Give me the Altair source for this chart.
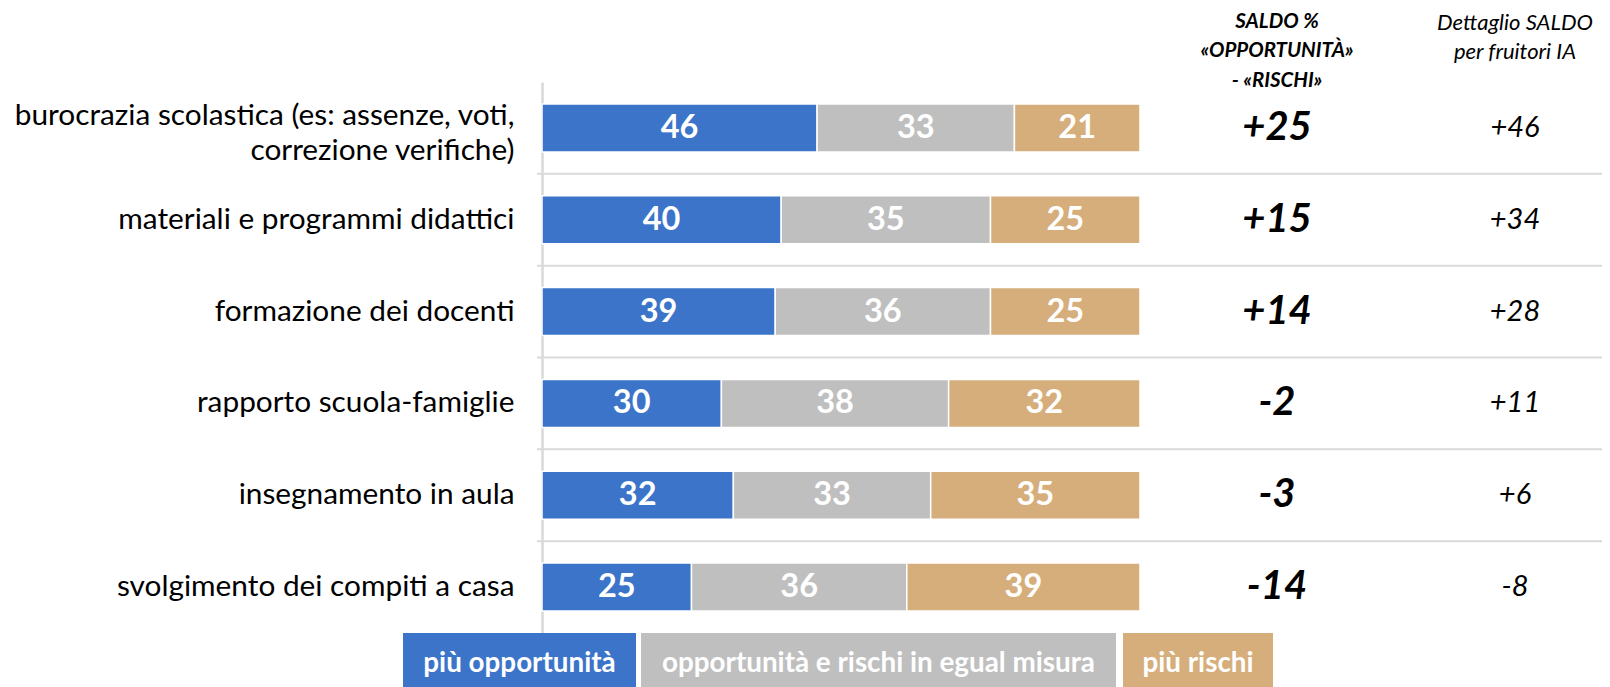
import altair as alt
import pandas as pd

# ---------------- data ----------------
categories = [
    "burocrazia scolastica (es: assenze, voti,|correzione verifiche)",
    "materiali e programmi didattici",
    "formazione dei docenti",
    "rapporto scuola-famiglie",
    "insegnamento in aula",
    "svolgimento dei compiti a casa",
]
series = ["più opportunità", "opportunità e rischi in egual misura", "più rischi"]
piu_opportunita = [46, 40, 39, 30, 32, 25]
egual_misura = [33, 35, 36, 38, 33, 36]
piu_rischi = [21, 25, 25, 32, 35, 39]
saldo = [25, 15, 14, -2, -3, -14]
saldo_fruitori = [46, 34, 28, 11, 6, -8]

header_saldo = "SALDO %\n«OPPORTUNITÀ»\n- «RISCHI»"
header_fruitori = "Dettaglio SALDO\nper fruitori IA"

colors = ["#3B74C9", "#BFBFBF", "#D6AE7B"]
FONT = "Lato"

# ---------------- tables ----------------
rows = []
for i, cat in enumerate(categories):
    vals = [piu_opportunita[i], egual_misura[i], piu_rischi[i]]
    start = 0
    for j, s in enumerate(series):
        rows.append({"category": cat, "series": s, "order": j, "value": vals[j],
                     "start": start, "end": start + vals[j], "mid": start + vals[j] / 2})
        start += vals[j]
df = pd.DataFrame(rows)

cat_df = pd.DataFrame({"category": categories, "saldo": saldo, "fruitori": saldo_fruitori})
sep_df = pd.DataFrame({"category": categories[:-1]})

# ---------------- scales / encodings ----------------
xscale = alt.Scale(domain=[0, 100], nice=False, zero=True)
yscale = alt.Scale(domain=categories, paddingInner=0, paddingOuter=0)
yaxis = alt.Axis(title=None, labelFont=FONT, labelFontSize=29.8, labelColor="black",
                 labelPadding=28, ticks=False, domainColor="#D9D9D9", domainWidth=2.5,
                 labelLimit=700, labelExpr="split(datum.label, '|')",
                 labelBaseline="middle",
                 labelOffset={"condition": {"test": "indexof(datum.value, '|') >= 0",
                                            "value": -12},
                              "value": 0},
                 labelLineHeight=35, grid=False)
Y = alt.Y("category:N", scale=yscale, axis=yaxis, sort=categories)

bars = alt.Chart(df).mark_bar(size=48, stroke="white", strokeWidth=1.5).encode(
    x=alt.X("start:Q", scale=xscale, axis=None),
    x2="end:Q",
    y=Y,
    color=alt.Color("series:N", scale=alt.Scale(domain=series, range=colors), legend=None),
)

bar_text = alt.Chart(df).mark_text(font=FONT, fontWeight="bold", fontSize=32.5,
                                   color="white", baseline="middle").encode(
    x=alt.X("mid:Q", scale=xscale, axis=None),
    y=Y,
    text="value:Q",
)

seps = alt.Chart(sep_df).mark_rule(color="#D9D9D9", strokeWidth=2).encode(
    y=alt.Y("category:N", scale=yscale, axis=yaxis, sort=categories, bandPosition=1),
    x=alt.value(-5),
    x2=alt.value(1062),
)

saldo_text = alt.Chart(cat_df).transform_calculate(
    lbl="datum.saldo > 0 ? '+' + datum.saldo : '' + datum.saldo"
).mark_text(font=FONT, fontWeight="bold", fontStyle="italic", fontSize=40,
            color="black", baseline="middle", align="center").encode(
    x=alt.value(735), y=Y, text="lbl:N")

fruitori_text = alt.Chart(cat_df).transform_calculate(
    lbl="datum.fruitori > 0 ? '+' + datum.fruitori : '' + datum.fruitori"
).mark_text(font=FONT, fontStyle="italic", fontSize=29,
            color="black", baseline="middle", align="center").encode(
    x=alt.value(973), y=Y, text="lbl:N")

head1 = alt.Chart(pd.DataFrame({"t": [header_saldo]})).mark_text(
    font=FONT, fontWeight="bold", fontStyle="italic", fontSize=20.5, lineHeight=29.8,
    lineBreak="\n", color="black", align="center", baseline="middle").encode(
    x=alt.value(735), y=alt.value(-60.5), text="t:N")

head2 = alt.Chart(pd.DataFrame({"t": [header_fruitori]})).mark_text(
    font=FONT, fontStyle="italic", fontSize=22, lineHeight=29.8,
    lineBreak="\n", color="black", align="center", baseline="middle").encode(
    x=alt.value(973), y=alt.value(-59.5), text="t:N")

# legend boxes (pixel layout, plot coordinates)
legend_boxes = [(-139, 94), (99, 574), (581, 731)]
legend_layers = []
for s, c, (x0, x1) in zip(series, colors, legend_boxes):
    ldf = pd.DataFrame({"t": [s]})
    legend_layers.append(alt.Chart(ldf).mark_rect(color=c).encode(
        x=alt.value(x0), x2=alt.value(x1), y=alt.value(551), y2=alt.value(605)))
    legend_layers.append(alt.Chart(ldf).mark_text(
        font=FONT, fontWeight="bold", fontSize=27.8, color="white",
        align="center", baseline="middle").encode(
        x=alt.value((x0 + x1) / 2), y=alt.value(582), text="t:N"))

chart = alt.layer(seps, bars, bar_text, saldo_text, fruitori_text, head1, head2,
                  *legend_layers).properties(
    width=598, height=551,
    autosize=alt.AutoSizeParams(type="none"),
    padding={"left": 534, "top": 74, "right": 462, "bottom": 54},
).configure_view(stroke=None)

chart.save("out.html", embed_options={"renderer": "svg", "actions": False})
